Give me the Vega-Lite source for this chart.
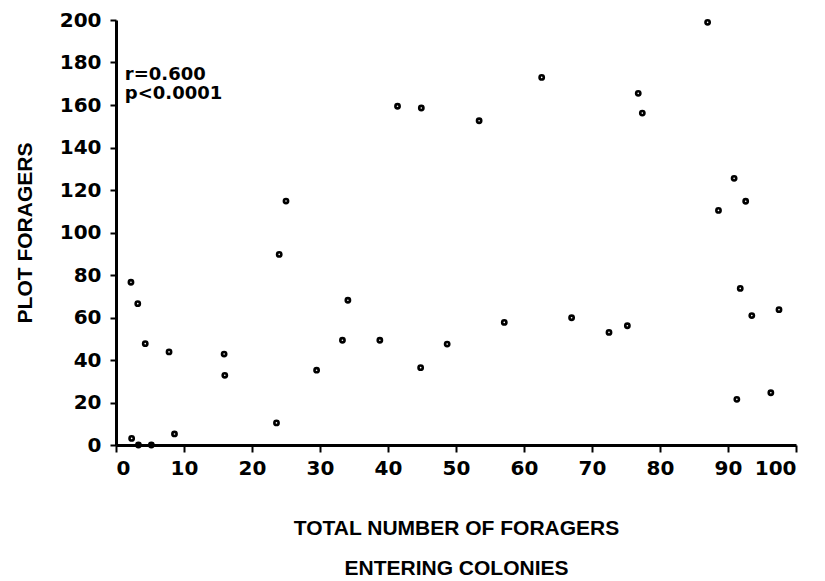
{
  "$schema": "https://vega.github.io/schema/vega-lite/v6.json",
  "width": 680,
  "height": 425,
  "autosize": {"type": "none"},
  "padding": {"left": 116, "top": 20, "right": 29, "bottom": 136},
  "background": "white",
  "config": {"view": {"stroke": null}},
  "datasets": {
    "pts": [
      {"total": 2.2, "plot": 76.6}, {"total": 3.2, "plot": 66.5}, {"total": 4.3, "plot": 47.7},
      {"total": 7.8, "plot": 43.8}, {"total": 15.9, "plot": 42.8}, {"total": 16.0, "plot": 32.8},
      {"total": 2.3, "plot": 3.1}, {"total": 8.6, "plot": 5.2}, {"total": 23.6, "plot": 10.4},
      {"total": 24.0, "plot": 89.7}, {"total": 3.3, "plot": 0}, {"total": 5.2, "plot": 0},
      {"total": 25.0, "plot": 114.8}, {"total": 41.4, "plot": 159.4}, {"total": 44.9, "plot": 158.6},
      {"total": 53.4, "plot": 152.6}, {"total": 62.6, "plot": 173.0}, {"total": 34.1, "plot": 68.1},
      {"total": 33.3, "plot": 49.3}, {"total": 38.8, "plot": 49.3}, {"total": 29.5, "plot": 35.2},
      {"total": 44.8, "plot": 36.4}, {"total": 48.7, "plot": 47.5}, {"total": 57.1, "plot": 57.7},
      {"total": 87.0, "plot": 198.9}, {"total": 76.8, "plot": 165.5}, {"total": 77.4, "plot": 156.2},
      {"total": 90.9, "plot": 125.5}, {"total": 92.6, "plot": 114.7}, {"total": 88.6, "plot": 110.4},
      {"total": 91.8, "plot": 73.7}, {"total": 93.5, "plot": 60.9}, {"total": 97.5, "plot": 63.7},
      {"total": 67.0, "plot": 59.9}, {"total": 72.5, "plot": 53.0}, {"total": 75.2, "plot": 56.1},
      {"total": 91.3, "plot": 21.5}, {"total": 96.3, "plot": 24.6}
    ],
    "notes": [
      {"tx": 1.3, "ty": 171.8, "label": "r=0.600"},
      {"tx": 1.3, "ty": 162.6, "label": "p<0.0001"}
    ]
  },
  "layer": [
    {
      "data": {"name": "pts"},
      "mark": {"type": "point", "shape": "circle", "filled": false, "size": 18, "strokeWidth": 2.6, "color": "#000", "opacity": 1},
      "encoding": {
        "x": {
          "field": "total", "type": "quantitative",
          "scale": {"domain": [0, 100], "nice": false, "zero": false},
          "axis": {
            "values": [0, 10, 20, 30, 40, 50, 60, 70, 80, 90, 100],
            "grid": false,
            "domainColor": "#000", "domainWidth": 3,
            "tickColor": "#000", "tickWidth": 2, "tickSize": 7,
            "labelFont": "DejaVu Sans", "labelFontWeight": "bold", "labelFontSize": 20, "labelColor": "#000",
            "labelPadding": 6,
            "title": ["TOTAL NUMBER OF FORAGERS", "ENTERING COLONIES"],
            "titleFont": "Liberation Sans", "titleFontWeight": "bold", "titleFontSize": 21, "titleColor": "#000",
            "titleLineHeight": 40, "titlePadding": 39
          }
        },
        "y": {
          "field": "plot", "type": "quantitative",
          "scale": {"domain": [0, 200], "nice": false, "zero": false},
          "axis": {
            "values": [0, 20, 40, 60, 80, 100, 120, 140, 160, 180, 200],
            "grid": false,
            "domainColor": "#000", "domainWidth": 3,
            "tickColor": "#000", "tickWidth": 2, "tickSize": 6,
            "labelFont": "DejaVu Sans", "labelFontWeight": "bold", "labelFontSize": 20, "labelColor": "#000",
            "labelPadding": 9,
            "title": "PLOT FORAGERS",
            "titleFont": "Liberation Sans", "titleFontWeight": "bold", "titleFontSize": 21, "titleColor": "#000",
            "titlePadding": 24
          }
        }
      }
    },
    {
      "data": {"name": "notes"},
      "mark": {"type": "text", "align": "left", "baseline": "alphabetic", "font": "DejaVu Sans", "fontWeight": "bold", "fontSize": 18, "color": "#000"},
      "encoding": {
        "x": {"field": "tx", "type": "quantitative"},
        "y": {"field": "ty", "type": "quantitative"},
        "text": {"field": "label"}
      }
    }
  ]
}
